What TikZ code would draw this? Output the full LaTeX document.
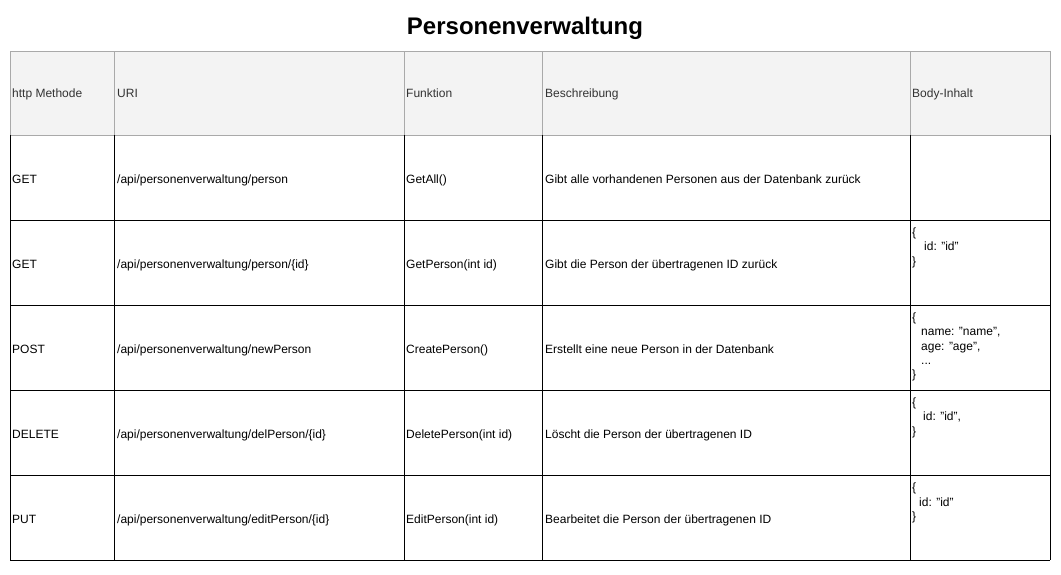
\documentclass[tikz,border=0pt]{standalone}
\usepackage{fontspec}
\setmainfont{Liberation Sans}
\definecolor{kopfgrau}{HTML}{F3F3F3}
\definecolor{kopflinie}{HTML}{A9A9A9}
\definecolor{kopftext}{HTML}{333333}

\begin{document}
\begin{tikzpicture}[x=1pt,y=-1pt,
    zelle/.style={anchor=base west,inner sep=0pt,font=\fontsize{12}{14.3}\selectfont},
    kopf/.style={zelle,text=kopftext},
    inhalt/.style={zelle,anchor=north west,align=left}]
        \useasboundingbox (0,0) rectangle (1061,574);

        % Titel
        \node[anchor=base,inner sep=0pt,font=\fontsize{24}{28}\selectfont\bfseries] (titel) at (525,34) {Personenverwaltung};

        % Kopfzeile
        \fill[kopfgrau] (10,51) rectangle (1050,135);
        \draw[kopflinie,line width=1pt] (10,51) rectangle (1050,135);
        \foreach \x in {114,404,542,910}
            \draw[kopflinie,line width=1pt] (\x,51) -- (\x,135);

        % Tabellenkoerper
        \foreach \x in {10,114,404,542,910,1050}
            \draw[black,line width=1pt] (\x,135) -- (\x,560);
        \foreach \y in {220,305,390,475,560}
            \draw[black,line width=1pt] (10,\y) -- (1050,\y);

        \node[kopf] (k1) at (12,97) {http Methode};
        \node[kopf] (k2) at (117,97) {URI};
        \node[kopf] (k3) at (406,97) {Funktion};
        \node[kopf] (k4) at (545,97) {Beschreibung};
        \node[kopf] (k5) at (912,97) {Body-Inhalt};

        \node[zelle] (m1) at (12,183) {GET};
        \node[zelle] (u1) at (117,183) {/api/personenverwaltung/person};
        \node[zelle] (f1) at (406,183) {GetAll()};
        \node[zelle] (b1) at (545,183) {Gibt alle vorhandenen Personen aus der Datenbank zurück};

        \node[zelle] (m2) at (12,268) {GET};
        \node[zelle] (u2) at (117,268) {/api/personenverwaltung/person/\{id\}};
        \node[zelle] (f2) at (406,268) {GetPerson(int id)};
        \node[zelle] (b2) at (545,268) {Gibt die Person der übertragenen ID zurück};
        \node[inhalt] (i2) at (912,227.5) {\{\\\hspace{12pt}id: "id"\\\}};

        \node[zelle] (m3) at (12,353) {POST};
        \node[zelle] (u3) at (117,353) {/api/personenverwaltung/newPerson};
        \node[zelle] (f3) at (406,353) {CreatePerson()};
        \node[zelle] (b3) at (545,353) {Erstellt eine neue Person in der Datenbank};
        \node[inhalt] (i3) at (912,312.5) {\{\\\hspace{9pt}name: "name",\\\hspace{9pt}age: "age",\\\hspace{9pt}...\\\}};

        \node[zelle] (m4) at (12,438) {DELETE};
        \node[zelle] (u4) at (117,438) {/api/personenverwaltung/delPerson/\{id\}};
        \node[zelle] (f4) at (406,438) {DeletePerson(int id)};
        \node[zelle] (b4) at (545,438) {Löscht die Person der übertragenen ID};
        \node[inhalt] (i4) at (912,397.5) {\{\\\hspace{11pt}id: "id",\\\}};

        \node[zelle] (m5) at (12,523) {PUT};
        \node[zelle] (u5) at (117,523) {/api/personenverwaltung/editPerson/\{id\}};
        \node[zelle] (f5) at (406,523) {EditPerson(int id)};
        \node[zelle] (b5) at (545,523) {Bearbeitet die Person der übertragenen ID};
        \node[inhalt] (i5) at (912,483) {\{\\\hspace{7pt}id: "id"\\\}};
    \end{tikzpicture}
\end{document}
